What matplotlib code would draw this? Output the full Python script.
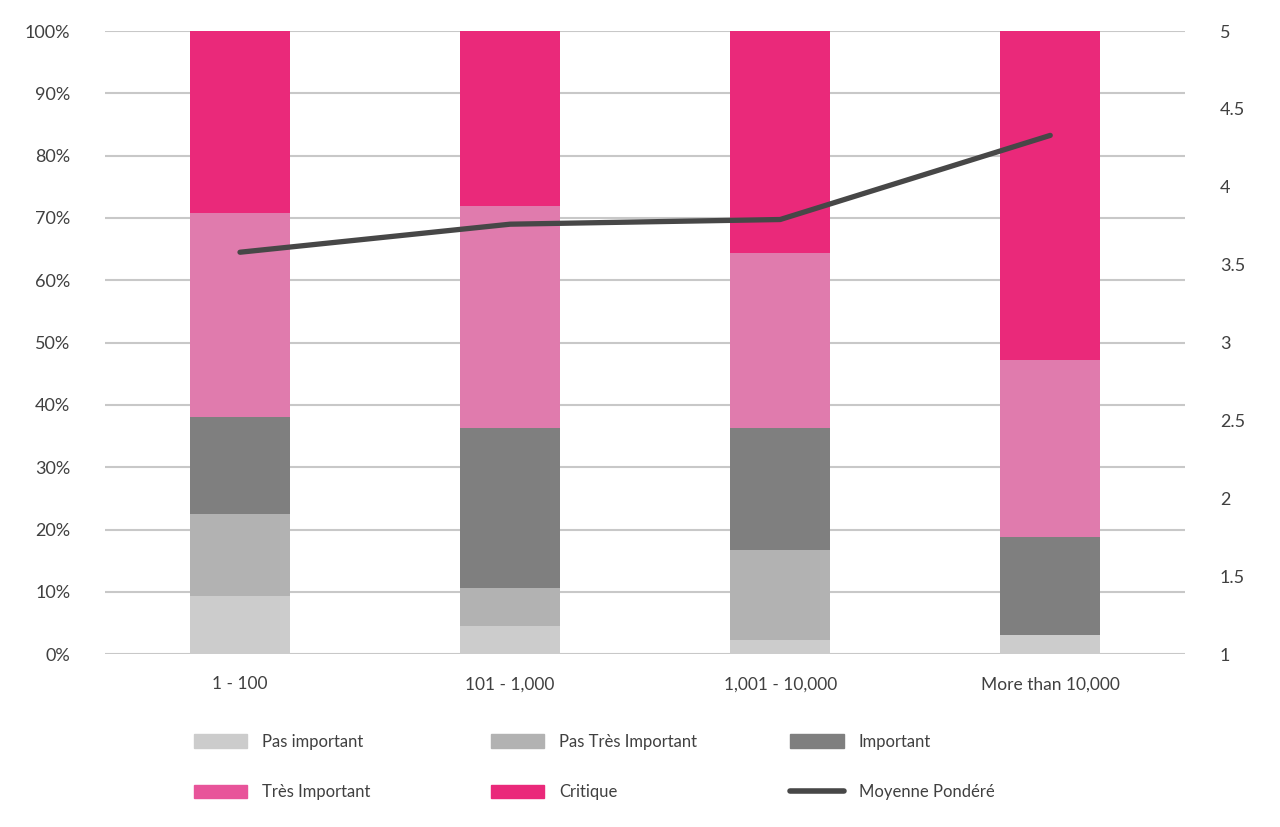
import numpy as np
import matplotlib.pyplot as plt
from matplotlib.patches import Patch
from matplotlib.lines import Line2D

plt.rcParams['font.family'] = ['Lato', 'DejaVu Sans']

categories = ['1 - 100', '101 - 1,000', '1,001 - 10,000', 'More than 10,000']
pas_important = [9.3, 4.5, 2.2, 3.0]
pas_tres_important = [13.2, 6.1, 14.5, 0.0]
important = [15.5, 25.7, 19.6, 15.8]
tres_important = [32.8, 35.6, 28.1, 28.4]
critique = [29.2, 28.1, 35.6, 52.8]
moyenne = [3.58, 3.76, 3.79, 4.33]

series = [pas_important, pas_tres_important, important, tres_important, critique]
names = ['Pas important', 'Pas Très Important', 'Important', 'Très Important', 'Critique']
colors = ['#cccccc', '#b2b2b2', '#7f7f7f', '#e07bad', '#ea297a']
legend_colors = ['#cccccc', '#b2b2b2', '#7f7f7f', '#e8549a', '#ea297a']
line_color = '#474747'
text_color = '#404040'

fig = plt.figure(figsize=(12.8, 8.27), dpi=100)
ax = fig.add_axes([0.082, 0.209, 0.844, 0.7535])

x = np.arange(len(categories))
bottom = np.zeros(len(categories))
for vals, c in zip(series, colors):
    ax.bar(x, vals, width=0.37, bottom=bottom, color=c, zorder=2)
    bottom += np.array(vals)

ax.set_xlim(-0.5, len(categories) - 0.5)
ax.set_ylim(0, 100)
ax.set_yticks(np.arange(0, 101, 10))
ax.set_yticklabels([f'{v}%' for v in range(0, 101, 10)])
ax.grid(axis='y', color='#c8c8c8', linewidth=1.5, zorder=0)
ax.set_axisbelow(True)
ax.set_xticks(x)
ax.set_xticklabels(categories)
ax.tick_params(axis='both', length=0, labelsize=13, colors=text_color)
ax.tick_params(axis='x', pad=16, labelsize=12.5)
ax.tick_params(axis='y', pad=25)
for s in ax.spines.values():
    s.set_visible(False)

ax2 = ax.twinx()
ax2.plot(x, moyenne, color=line_color, linewidth=3.8, solid_capstyle='round', zorder=5)
ax2.set_ylim(1, 5)
ax2.set_yticks(np.arange(1, 5.01, 0.5))
ax2.set_yticklabels(['1', '1.5', '2', '2.5', '3', '3.5', '4', '4.5', '5'])
ax2.tick_params(axis='y', length=0, labelsize=13, colors=text_color, pad=25)
for s in ax2.spines.values():
    s.set_visible(False)

handles = [Patch(color=c, label=n) for c, n in zip(legend_colors, names)]
handles.append(Line2D([0], [0], color=line_color, linewidth=4, solid_capstyle='round', label='Moyenne Pondéré'))

cols = [(handles[0], handles[3]), (handles[1], handles[4]), (handles[2], handles[5])]
xpos = [0.145, 0.377, 0.611]
for (h1, h2), xp in zip(cols, xpos):
    fig.legend(handles=[h1, h2], loc='upper left', bbox_to_anchor=(xp, 0.123),
               frameon=False, fontsize=12, labelcolor=text_color, handlelength=3.2,
               handleheight=0.9, handletextpad=0.9, labelspacing=2.08, borderpad=0)

fig.savefig('out.png', dpi=100)
